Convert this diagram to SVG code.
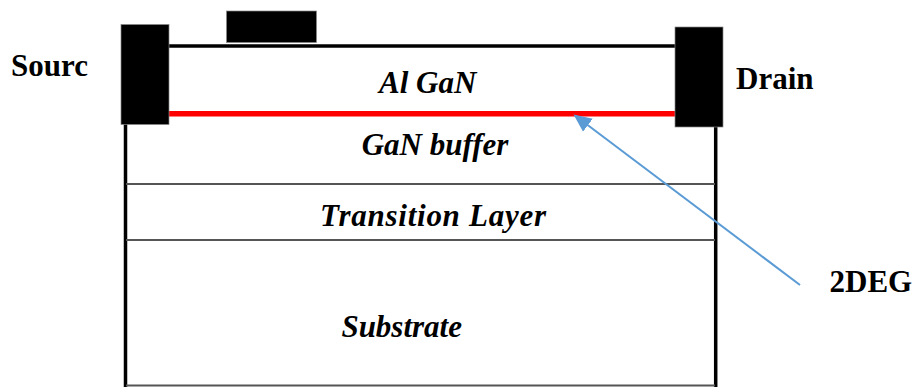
<svg xmlns="http://www.w3.org/2000/svg" width="915" height="387" viewBox="0 0 915 387">
<style>
text{font-family:'Liberation Serif','Times New Roman',Tinos,'DejaVu Serif',serif;font-size:31px;font-weight:700;fill:#000}
.it{font-style:italic}
.layer{stroke:#555;stroke-width:2;fill:none}
.wall{stroke:#000;stroke-width:3.5;fill:none}
.contact{fill:#000;stroke:#888;stroke-width:0.7}
</style>
<defs>
<marker id="ah" viewBox="0 0 10 10" refX="9" refY="5" markerWidth="9" markerHeight="9" orient="auto" markerUnits="strokeWidth">
<path d="M0,0.5 L10,5 L0,9.5 z" fill="#5B9BD5"/>
</marker>
</defs>
<rect width="915" height="387" fill="#fff"/>
<g id="structure">
<line class="wall" x1="125.5" y1="124" x2="125.5" y2="387"/>
<line class="wall" x1="715.7" y1="127" x2="715.7" y2="387"/>
<line class="layer" x1="126" y1="184" x2="715" y2="184"/>
<line class="layer" x1="126" y1="240" x2="715" y2="240"/>
<line class="layer" x1="126" y1="385.5" x2="715" y2="385.5"/>
<line x1="169" y1="46" x2="675" y2="46" stroke="#000" stroke-width="3.5"/>
</g>
<g id="channel-2deg">
<line x1="169" y1="113.8" x2="675" y2="113.8" stroke="#ff0000" stroke-width="5.5"/>
</g>
<g id="source">
<rect class="contact" x="121" y="24.5" width="48" height="100"/>
<text x="11" y="75.5">Sourc</text>
</g>
<g id="gate">
<rect class="contact" x="226.5" y="11" width="90" height="31.5"/>
</g>
<g id="drain">
<rect class="contact" x="675" y="27" width="48" height="100"/>
<text x="736" y="89">Drain</text>
</g>
<g id="layer-algan"><text class="it" x="427.7" y="93.3" text-anchor="middle">Al GaN</text></g>
<g id="layer-gan"><text class="it" x="435" y="155" text-anchor="middle">GaN buffer</text></g>
<g id="layer-transition"><text class="it" x="320" y="226" textLength="226" lengthAdjust="spacing">Transition Layer</text></g>
<g id="layer-substrate"><text class="it" x="401.7" y="336.5" text-anchor="middle">Substrate</text></g>
<g id="label-2deg"><text x="829.5" y="291.5">2DEG</text></g>
<g id="connectors">
<line x1="800" y1="285" x2="575" y2="115.5" stroke="#5B9BD5" stroke-width="2" marker-end="url(#ah)"/>
</g>
</svg>
